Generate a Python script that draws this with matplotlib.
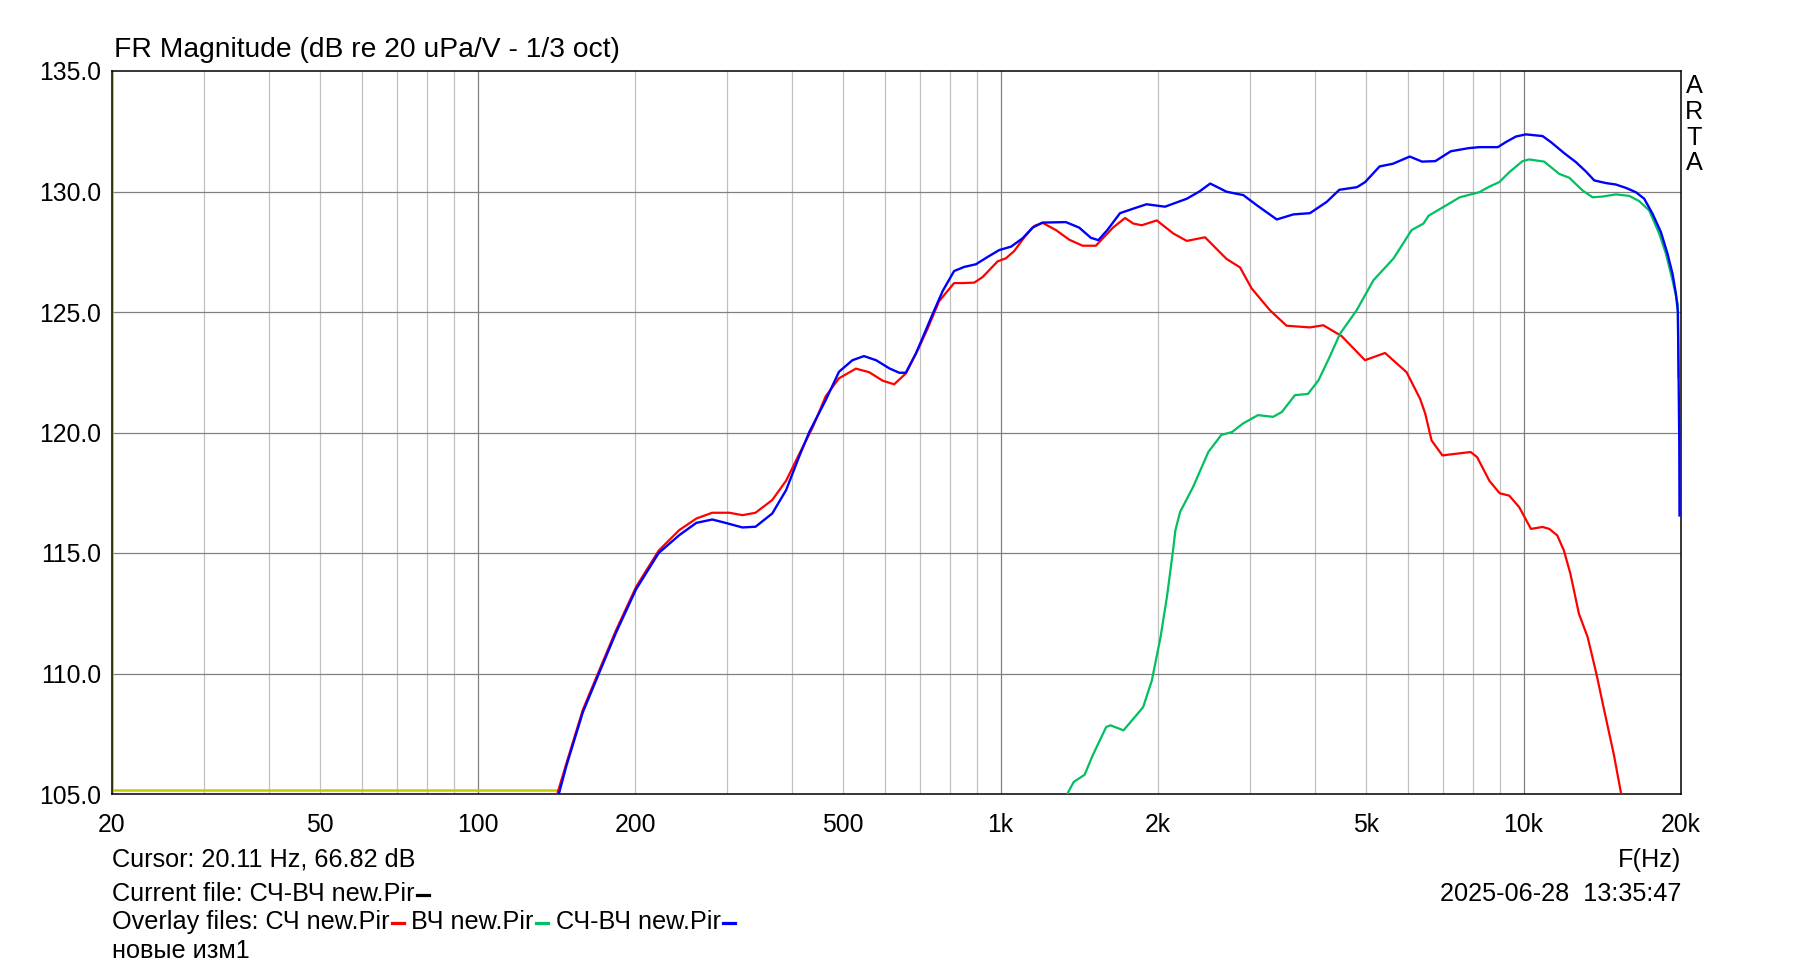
import matplotlib
matplotlib.use("Agg")
import matplotlib.pyplot as plt
from matplotlib.lines import Line2D

plt.rcParams["font.family"] = ["Liberation Sans", "DejaVu Sans"]

# ===============================
# DATA
# ===============================
# current file, clamped at the bottom of the scale
cur_freq = [20, 143]
cur_db = [105.15, 105.15]

# СЧ new.Pir (red)
sch_freq = [142, 148, 159, 171, 184, 201, 222, 243, 262, 281, 303, 321, 340, 366, 389,
            412, 437, 463, 491, 529, 561, 595, 626, 659, 699, 725, 763, 815, 846, 891,
            924, 987, 1024, 1062, 1110, 1160, 1203, 1276, 1353, 1435, 1521, 1640, 1730,
            1794, 1862, 1989, 2139, 2270, 2460, 2705, 2870, 3020, 3275, 3523, 3904, 4142,
            4489, 4975, 5435, 5975, 6340, 6483, 6670, 6995, 7920, 8150, 8600, 9000, 9389,
            9811, 10330, 10873, 11200, 11600, 11940, 12290, 12760, 13260, 13780, 14310,
            14870, 15370]
sch_db = [105.0, 106.3, 108.5, 110.15, 111.8, 113.6, 115.1, 115.95, 116.43, 116.67, 116.67,
          116.57, 116.67, 117.2, 118.0, 119.1, 120.2, 121.5, 122.25, 122.65, 122.5, 122.15,
          122.0, 122.45, 123.55, 124.3, 125.45, 126.2, 126.2, 126.22, 126.45, 127.1, 127.23,
          127.53, 128.1, 128.57, 128.7, 128.4, 128.0, 127.75, 127.75, 128.5, 128.9, 128.67,
          128.6, 128.8, 128.26, 127.95, 128.1, 127.2, 126.85, 125.98, 125.07, 124.43, 124.36,
          124.45, 124.0, 123.0, 123.3, 122.5, 121.4, 120.8, 119.67, 119.05, 119.19, 118.98,
          118.0, 117.48, 117.38, 116.9, 116.0, 116.08, 116.0, 115.73, 115.11, 114.14, 112.48,
          111.51, 109.99, 108.33, 106.67, 105.0]

# ВЧ new.Pir (green)
vch_freq = [1341, 1380, 1448, 1500, 1592, 1623, 1718, 1873, 1946, 2022, 2080, 2141, 2159,
            2204, 2334, 2496, 2643, 2771, 2906, 3105, 3320, 3450, 3655, 3870, 4055, 4250,
            4458, 4795, 5165, 5640, 6110, 6435, 6587, 7055, 7550, 8227, 8600, 8987, 9389,
            9956, 10250, 10950, 11700, 12230, 12970, 13550, 14160, 15010, 15920, 16640,
            17390, 18180, 18720, 19270, 19710, 19790]
vch_db = [105.0, 105.5, 105.8, 106.6, 107.78, 107.85, 107.64, 108.6, 109.7, 111.5, 113.17,
          115.25, 115.94, 116.7, 117.74, 119.19, 119.9, 120.02, 120.37, 120.72, 120.65,
          120.85, 121.55, 121.6, 122.17, 123.1, 124.1, 125.07, 126.32, 127.22, 128.4, 128.67,
          129.0, 129.38, 129.76, 129.97, 130.2, 130.39, 130.8, 131.26, 131.33, 131.24, 130.73,
          130.57, 130.04, 129.76, 129.79, 129.88, 129.82, 129.6, 129.21, 128.24, 127.41,
          126.31, 125.34, 122.3]

# СЧ-ВЧ new.Pir (blue)
sum_freq = [143, 148, 159, 171, 184, 201, 222, 243, 262, 281, 298, 321, 340, 366, 389, 412,
            431, 463, 491, 521, 548, 578, 613, 640, 659, 689, 741, 775, 815, 852, 897, 944,
            994, 1047, 1102, 1151, 1203, 1333, 1414, 1488, 1538, 1600, 1692, 1800, 1901,
            2063, 2270, 2400, 2517, 2705, 2912, 3090, 3374, 3630, 3904, 4204, 4443, 4804,
            4978, 5305, 5623, 6060, 6395, 6780, 7260, 7860, 8227, 8930, 9251, 9667, 10103,
            10873, 11280, 11960, 12590, 13160, 13650, 14370, 15010, 15690, 16400, 17010,
            17650, 18310, 18850, 19270, 19560, 19730, 19790, 19850, 19870]
sum_db = [105.0, 106.2, 108.4, 110.05, 111.7, 113.5, 115.0, 115.74, 116.25, 116.39, 116.25,
          116.06, 116.09, 116.64, 117.61, 119.0, 120.03, 121.34, 122.52, 123.0, 123.17, 123.0,
          122.66, 122.48, 122.48, 123.28, 124.9, 125.87, 126.7, 126.87, 126.98, 127.28,
          127.57, 127.71, 128.06, 128.5, 128.71, 128.73, 128.5, 128.08, 127.98, 128.4, 129.1,
          129.3, 129.47, 129.37, 129.7, 130.0, 130.33, 129.99, 129.85, 129.43, 128.84, 129.05,
          129.1, 129.57, 130.07, 130.18, 130.39, 131.04, 131.15, 131.45, 131.24, 131.26,
          131.67, 131.8, 131.84, 131.84, 132.05, 132.28, 132.37, 132.3, 132.05, 131.59,
          131.22, 130.83, 130.46, 130.35, 130.29, 130.15, 129.97, 129.7, 129.07, 128.31,
          127.41, 126.58, 125.75, 125.0, 122.3, 119.53, 116.56]

x_ticks = [20, 50, 100, 200, 500, 1000, 2000, 5000, 10000, 20000]
x_labels = ["20", "50", "100", "200", "500", "1k", "2k", "5k", "10k", "20k"]
y_ticks = [105, 110, 115, 120, 125, 130, 135]

# ===============================
# FIGURE
# ===============================
W, H = 1793, 966
FS = 18.2
fig = plt.figure(figsize=(W / 100, H / 100), dpi=100)
ax = fig.add_axes([112 / W, 1 - 794 / H, (1681 - 112) / W, (794 - 71) / H])

ax.set_xscale("log")
ax.set_xlim(20, 20000)
ax.set_ylim(105, 135)

# grid: light lines at 2..9 x decade, darker at the decades and dB lines
for dec in [10, 100, 1000, 10000]:
    for m in range(1, 10):
        f = dec * m
        if 20 < f < 20000:
            ax.axvline(f, color="#808080" if m == 1 else "#c0c0c0", lw=0.9, zorder=0)
for v in y_ticks[1:-1]:
    ax.axhline(v, color="#808080", lw=0.9, zorder=0)

ax.axvline(20.11, color="#c8c800", lw=1.2, zorder=1)

ax.plot(cur_freq, cur_db, color="#c8c800", lw=1.8, zorder=2)
ax.plot(sch_freq, sch_db, color="#ff0000", lw=1.6, zorder=3)
ax.plot(vch_freq, vch_db, color="#00c060", lw=1.6, zorder=4)
ax.plot(sum_freq, sum_db, color="#0000ff", lw=1.7, zorder=5)

ax.set_xticks(x_ticks, x_labels)
ax.set_xticks([], minor=True)
ax.set_yticks(y_ticks, [f"{v:.1f}" for v in y_ticks])
ax.tick_params(axis="both", which="both", length=0, labelsize=17.8)
ax.tick_params(axis="x", pad=13.5)
ax.tick_params(axis="y", pad=8)
for s in ax.spines.values():
    s.set_linewidth(1.1)

# ===============================
# TEXTS
# ===============================
def px(x, y):
    return x / W, 1 - y / H

fig.text(*px(114, 50), "FR Magnitude (dB re 20 uPa/V - 1/3 oct)", fontsize=20.3,
         ha="left", va="center")

for i, ch in enumerate("ARTA"):
    fig.text(*px(1694, 86 + i * 25.8), ch, fontsize=FS, ha="center", va="center")

fig.text(*px(1681, 860), "F(Hz)", fontsize=FS, ha="right", va="center")
fig.text(*px(1681, 894), "2025-06-28  13:35:47", fontsize=FS, ha="right", va="center")
fig.text(*px(112, 860), "Cursor: 20.11 Hz, 66.82 dB", fontsize=FS, ha="left", va="center")
fig.text(*px(112, 951), "новые изм1", fontsize=FS, ha="left", va="center")

renderer = fig.canvas.get_renderer()


def chain(pieces, y):
    x = 112
    for txt, col in pieces:
        if txt is None:
            fig.add_artist(Line2D([(x + 2) / W, (x + 14) / W], [1 - (y + 1) / H] * 2,
                                  transform=fig.transFigure, color=col, lw=2.3))
            x += 15
            continue
        t = fig.text(*px(x, y), txt, fontsize=FS, ha="left", va="center", color=col)
        bb = t.get_window_extent(renderer)
        x = bb.x1


chain([("Current file: СЧ-ВЧ new.Pir", "black"), (None, "black")], 894)
chain([("Overlay files: СЧ new.Pir", "black"), (None, "#ff0000"),
       (" ВЧ new.Pir", "black"), (None, "#00c060"),
       (" СЧ-ВЧ new.Pir", "black"), (None, "#0000ff")], 922)

fig.savefig("out.png", dpi=100, facecolor="white")
